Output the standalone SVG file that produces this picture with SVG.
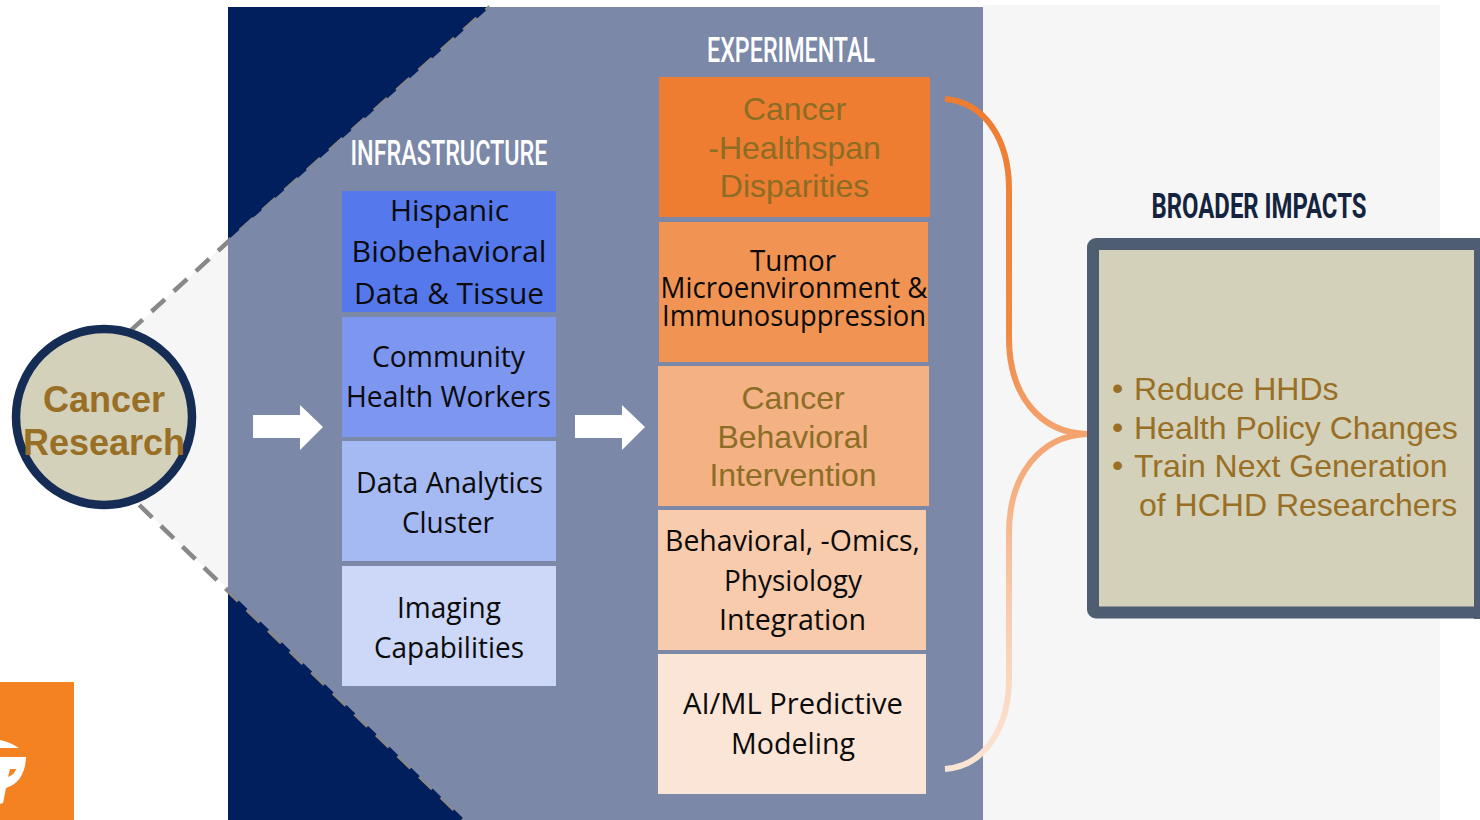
<svg xmlns="http://www.w3.org/2000/svg" width="1480" height="820" viewBox="0 0 1480 820">
<defs>
<linearGradient id="brace" gradientUnits="userSpaceOnUse" x1="0" y1="98" x2="0" y2="770">
<stop offset="0" stop-color="#EE7D31"/><stop offset="0.35" stop-color="#EF8A45"/><stop offset="0.5" stop-color="#F4A36E"/><stop offset="0.75" stop-color="#F8CBAD"/><stop offset="1" stop-color="#FBE5D6"/>
</linearGradient>
<path id="arrow" d="M0 10H47V0L70 22L47 45V33H0Z" fill="#fff"/>
</defs>
<style>
.b{font-family:"Open Sans","Noto Sans",sans-serif;font-size:29px;fill:#0b0b0b;text-anchor:middle}
.g{font-family:"Liberation Sans",Arial,sans-serif;font-size:32px;fill:#8B6D25;text-anchor:middle}
.l{font-family:"Liberation Sans",Arial,sans-serif;font-size:32px;fill:#996F25}
.p{font-family:"Liberation Sans",Arial,sans-serif;font-size:32px;fill:#996F25}
.h{font-family:"Roboto","Liberation Sans",sans-serif;font-weight:500;font-size:35px;text-anchor:middle;fill:#fff}
.d{stroke:#888;stroke-width:4.500;stroke-dasharray:18 12;fill:none}
</style>
<rect width="1480" height="820" fill="#fff"/>
<g id="backdrop">
<rect x="983" y="5" width="457" height="815" fill="#F6F6F6"/>
<polygon points="130,332 229,240 229,590 139,505" fill="#F6F6F7"/>
<rect x="228" y="7" width="262" height="240" fill="#001F5C"/>
<rect x="228" y="585" width="240" height="235" fill="#001F5C"/>
</g>
<g id="connectors">
<path class="d" d="M129.400 331.700L230 240L490 7"/>
<path class="d" d="M139.300 505L465 820"/>
</g>
<polygon id="panel" points="228,240 490,7 983,7 983,820 465,820 228,590" fill="#7B88A8"/>
<g id="arrows">
<use href="#arrow" x="253" y="405"/>
<use href="#arrow" x="575" y="405"/>
<path d="M945 99C985 102 1009 140 1009 189V338C1009 395 1040 433 1087 434M945 769C985 766 1009 728 1009 678V533C1009 475 1040 436 1087 434" fill="none" stroke="url(#brace)" stroke-width="6"/>
</g>
<g id="cancer-research">
<circle cx="104" cy="417" r="88" fill="#D3D1BA" stroke="#152C55" stroke-width="8.500"/>
<text x="104" y="412" font-family="Liberation Sans,Arial,sans-serif" font-weight="700" font-size="36" fill="#996F25" text-anchor="middle">Cancer</text>
<text x="104" y="455" font-family="Liberation Sans,Arial,sans-serif" font-weight="700" font-size="36" fill="#996F25" text-anchor="middle">Research</text>
</g>
<g id="logo">
<rect y="682" width="74" height="138" fill="#F58220"/>
<path d="M0 740Q10 742 19 748H0ZM0 757H26Q25 782 6 788L3 803L0 804Z" fill="#fff"/>
<path d="M10 769H16Q15 774 8 777Z" fill="#F58220"/>
</g>
<text id="infrastructure-title" class="h" x="449" y="165" textLength="197" lengthAdjust="spacingAndGlyphs">INFRASTRUCTURE</text>
<text id="experimental-title" class="h" x="791" y="62" textLength="168" lengthAdjust="spacingAndGlyphs">EXPERIMENTAL</text>
<text id="broader-title" class="h" x="1259" y="218" textLength="215" lengthAdjust="spacingAndGlyphs" style="fill:#14233F;font-weight:700">BROADER IMPACTS</text>
<g id="infra-1"><rect x="342" y="191" width="214" height="121" fill="#5579EC"/>
<text class="b" x="449.500" y="221" textLength="119" lengthAdjust="spacingAndGlyphs">Hispanic</text><text class="b" x="449" y="262" textLength="195" lengthAdjust="spacingAndGlyphs">Biobehavioral</text><text class="b" x="449" y="304" textLength="190" lengthAdjust="spacingAndGlyphs">Data &amp; Tissue</text></g>
<g id="infra-2"><rect x="342" y="317" width="214" height="120" fill="#7D96F0"/>
<text class="b" x="448.500" y="367" textLength="153" lengthAdjust="spacingAndGlyphs">Community</text><text class="b" x="448.500" y="407" textLength="205" lengthAdjust="spacingAndGlyphs">Health Workers</text></g>
<g id="infra-3"><rect x="342" y="441" width="214" height="120" fill="#A5B9F3"/>
<text class="b" x="449.500" y="493" textLength="187" lengthAdjust="spacingAndGlyphs">Data Analytics</text><text class="b" x="448" y="533" textLength="92" lengthAdjust="spacingAndGlyphs">Cluster</text></g>
<g id="infra-4"><rect x="342" y="566" width="214" height="120" fill="#CDD7F8"/>
<text class="b" x="449" y="618" textLength="104" lengthAdjust="spacingAndGlyphs">Imaging</text><text class="b" x="449" y="658" textLength="150" lengthAdjust="spacingAndGlyphs">Capabilities</text></g>
<g id="exp-1"><rect x="659" y="77" width="271" height="140" fill="#EE7D31"/>
<text class="g" x="794.500" y="120">Cancer</text><text class="g" x="794.500" y="159">-Healthspan</text><text class="g" x="794.500" y="197">Disparities</text></g>
<g id="exp-2"><rect x="659" y="222" width="269" height="140" fill="#F09353"/>
<text class="b" x="793" y="271" textLength="86" lengthAdjust="spacingAndGlyphs">Tumor</text><text class="b" x="794" y="298" textLength="267" lengthAdjust="spacingAndGlyphs">Microenvironment &amp;</text><text class="b" x="794" y="326" textLength="264" lengthAdjust="spacingAndGlyphs">Immunosuppression</text></g>
<g id="exp-3"><rect x="658" y="366" width="271" height="140" fill="#F4B183"/>
<text class="g" x="793" y="409">Cancer</text><text class="g" x="793" y="448">Behavioral</text><text class="g" x="793" y="486">Intervention</text></g>
<g id="exp-4"><rect x="658" y="510" width="268" height="140" fill="#F8CBAD"/>
<text class="b" x="792.500" y="551" textLength="255" lengthAdjust="spacingAndGlyphs">Behavioral, -Omics,</text><text class="b" x="793" y="591" textLength="138" lengthAdjust="spacingAndGlyphs">Physiology</text><text class="b" x="792.500" y="630" textLength="147" lengthAdjust="spacingAndGlyphs">Integration</text></g>
<g id="exp-5"><rect x="658" y="654" width="268" height="140" fill="#FBE5D6"/>
<text class="b" x="793" y="714" textLength="220" lengthAdjust="spacingAndGlyphs">AI/ML Predictive</text><text class="b" x="793" y="754" textLength="124" lengthAdjust="spacingAndGlyphs">Modeling</text></g>
<g id="impacts">
<rect x="1093" y="244" width="400" height="368.500" rx="3" fill="#D3D1BA" stroke="#4F5D73" stroke-width="12"/>
<rect x="1474" y="238" width="6" height="381" fill="#4F5D73"/>
<text class="p" x="1112" y="399">•</text>
<text class="p" x="1112" y="438">•</text>
<text class="p" x="1112" y="476">•</text>
<text class="l" x="1134" y="400">Reduce HHDs</text>
<text class="l" x="1134" y="439">Health Policy Changes</text>
<text class="l" x="1134" y="477">Train Next Generation</text>
<text class="l" x="1139" y="516">of HCHD Researchers</text>
</g>
</svg>
